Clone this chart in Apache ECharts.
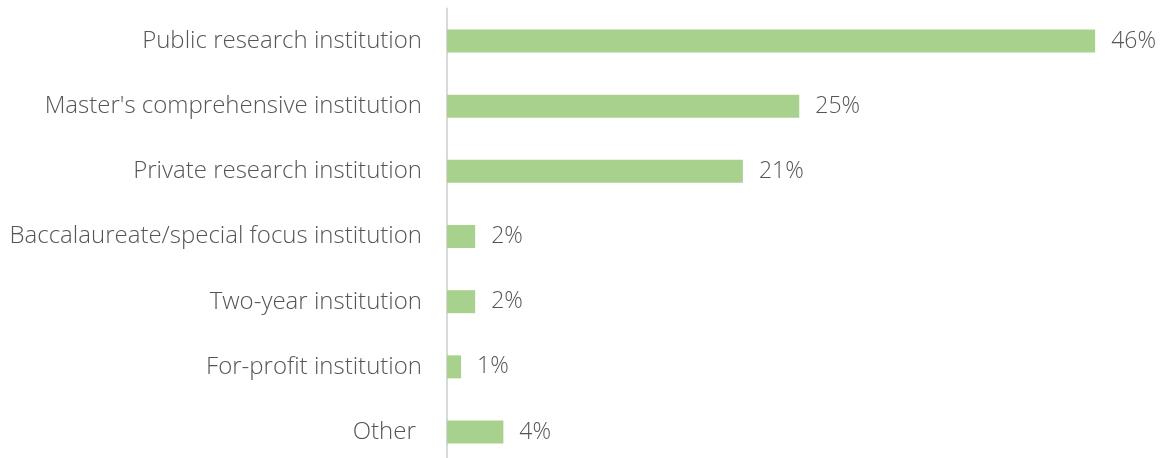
<!DOCTYPE html>
<html>
<head>
<meta charset="utf-8">
<style>
  html, body { margin: 0; padding: 0; background: #ffffff; overflow: hidden; }
  #chart { width: 1166px; height: 466px; }
</style>
<script src="https://cdn.jsdelivr.net/npm/echarts@6/dist/echarts.min.js"></script>
</head>
<body>
<div id="chart"></div>
<script>
// Institution types, listed top to bottom
const categories = [
  'Public research institution',
  "Master's comprehensive institution",
  'Private research institution',
  'Baccalaureate/special focus institution',
  'Two-year institution',
  'For-profit institution',
  'Other '
];
// Share of respondents (%)
const shares = [46, 25, 21, 2, 2, 1, 4];

const textColor = '#555555';
const fontFamily = '"Open Sans", "Noto Sans", sans-serif';

const chart = echarts.init(document.getElementById('chart'), null, { renderer: 'canvas' });
chart.setOption({
  animation: false,
  grid: { left: 447, right: 14.5, top: 8.4, height: 456.2, containLabel: false },
  xAxis: {
    type: 'value',
    min: 0,
    max: 50,
    show: false
  },
  yAxis: {
    type: 'category',
    inverse: true,
    data: categories,
    axisLine: { show: true, lineStyle: { color: '#d9d9d9', width: 2 } },
    axisTick: { show: false },
    axisLabel: {
      color: textColor,
      fontFamily: fontFamily,
      fontWeight: 300,
      fontSize: 24,
      margin: 25
    }
  },
  series: [{
    type: 'bar',
    data: shares,
    barWidth: 23,
    itemStyle: { color: '#a9d18e' },
    label: {
      show: true,
      position: 'right',
      distance: 16,
      color: textColor,
      fontFamily: fontFamily,
      fontWeight: 300,
      fontSize: 23,
      formatter: p => p.value + '%'
    }
  }]
});
</script>
</body>
</html>
